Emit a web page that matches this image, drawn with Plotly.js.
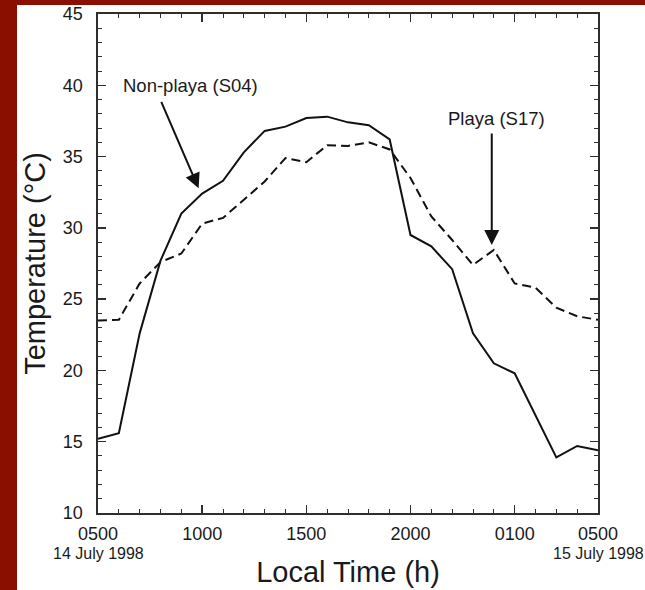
<!DOCTYPE html>
<html>
<head>
<meta charset="utf-8">
<script src="https://cdn.plot.ly/plotly-3.0.1.min.js"></script>
<style>
  html, body { margin:0; padding:0; background:#8b0f00; width:645px; height:590px; overflow:hidden; }
  #panel { position:absolute; left:17px; top:5px; width:628px; height:585px; background:#fff; }
  #chart { position:absolute; left:17px; top:0px; width:628px; height:590px; }
</style>
</head>
<body>
<div id="panel"></div>
<div id="chart"></div>
<script>
// Hours since 0000 on 14 July 1998 (5 = 0500 on 14 July, 29 = 0500 on 15 July)
const hours = [5,6,7,8,9,10,11,12,13,14,15,16,17,18,19,20,21,22,23,24,25,26,27,28,29];
// Non-playa (S04) temperature, deg C (solid line)
const nonPlaya = [15.2,15.6,22.6,27.7,31.0,32.4,33.3,35.3,36.8,37.1,37.7,37.8,37.4,37.2,36.2,29.5,28.7,27.1,22.6,20.5,19.8,16.9,13.9,14.7,14.4];
// Playa (S17) temperature, deg C (dashed line)
const playa = [23.5,23.55,26.1,27.6,28.2,30.3,30.7,32.0,33.25,34.9,34.6,35.8,35.75,36.0,35.5,33.5,30.8,29.15,27.4,28.45,26.1,25.8,24.4,23.8,23.55];

const xTickVals = [5,10,15,20,25,29];
const xTickText = ['0500','1000','1500','2000','0100','0500'];
const yTickVals = [10,15,20,25,30,35,40,45];
const dateLabels = ['14 July 1998','15 July 1998'];
const dateLabelPos = [5,29];

const FONT = 'Liberation Sans, Arial, Helvetica, sans-serif';
const INK = '#1a1a1a';
const AX = '#2e2e2e';

const traces = [
  {x: hours, y: nonPlaya, type:'scatter', mode:'lines', name:'Non-playa (S04)',
   line:{color:'#111', width:2}},
  {x: hours, y: playa, type:'scatter', mode:'lines', name:'Playa (S17)',
   line:{color:'#111', width:2, dash:'9px,5px'}}
];

const annotations = [
  {x:9.44, y:40.0, xref:'x', yref:'y', text:'Non-playa (S04)', showarrow:false,
   font:{size:18.5, color:INK, family:FONT}},
  {x:9.83, y:32.77, xref:'x', yref:'y', text:'', showarrow:true, arrowhead:2,
   arrowsize:1.5, arrowwidth:2, arrowcolor:'#111', ax:-38, ay:-88},
  {x:24.15, y:37.68, xref:'x', yref:'y', text:'Playa (S17)', showarrow:false,
   font:{size:18.5, color:INK, family:FONT}},
  {x:23.9, y:28.8, xref:'x', yref:'y', text:'', showarrow:true, arrowhead:2,
   arrowsize:1.5, arrowwidth:2, arrowcolor:'#111', ax:0, ay:-113}
];
dateLabels.forEach((t,i) => annotations.push({
  x: dateLabelPos[i], y: -0.082, xref:'x', yref:'paper', text:t, showarrow:false,
  xanchor:'center', yanchor:'middle', font:{size:16, color:INK, family:FONT}
}));

const layout = {
  width:628, height:590,
  margin:{l:81, r:47, t:14, b:77, pad:0},
  paper_bgcolor:'rgba(0,0,0,0)', plot_bgcolor:'#fff',
  showlegend:false,
  font:{family:FONT, color:INK},
  xaxis:{
    range:[5,29], tickmode:'array', tickvals:xTickVals, ticktext:xTickText,
    ticks:'inside', ticklen:8, tickwidth:1.5, tickcolor:AX,
    showline:true, linecolor:AX, linewidth:1.6, mirror:'ticks',
    showgrid:false, zeroline:false, ticklabelstandoff:4, ticklabeloverflow:'allow',
    tickfont:{size:18, color:INK, family:FONT},
    minor:{tickmode:'linear', tick0:5, dtick:1, ticks:'inside', ticklen:4, tickwidth:1, tickcolor:AX, showgrid:false},
    title:{text:'Local Time (h)', font:{size:29, color:INK, family:FONT}, standoff:18}
  },
  yaxis:{
    range:[10,45], tickmode:'array', tickvals:yTickVals,
    ticks:'inside', ticklen:8, tickwidth:1.5, tickcolor:AX,
    showline:true, linecolor:AX, linewidth:1.6, mirror:'ticks',
    showgrid:false, zeroline:false, ticklabelstandoff:10, ticklabeloverflow:'allow',
    tickfont:{size:18, color:INK, family:FONT},
    minor:{tickmode:'linear', tick0:10, dtick:1, ticks:'inside', ticklen:4, tickwidth:1, tickcolor:AX, showgrid:false},
    title:{text:'Temperature (°C)', font:{size:29, color:INK, family:FONT}, standoff:8}
  },
  annotations: annotations
};

Plotly.newPlot('chart', traces, layout, {displayModeBar:false, staticPlot:true});
</script>
</body>
</html>
